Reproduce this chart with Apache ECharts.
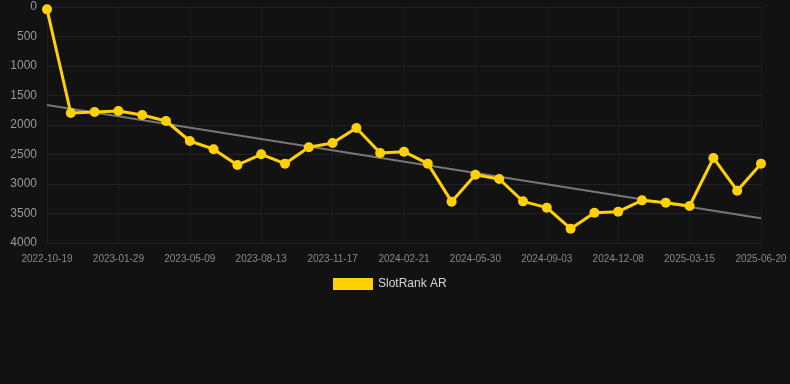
<!DOCTYPE html>
<html><head><meta charset="utf-8">
<script src="https://cdn.jsdelivr.net/npm/echarts@6/dist/echarts.min.js"></script>
<style>html,body{margin:0;padding:0;background:#121212;}#c{width:790px;height:384px;}</style>
</head><body><div id="c"></div>
<script>
var categories = ['2022-10-19','2022-11-22','2022-12-26','2023-01-29','2023-03-03','2023-04-05','2023-05-09','2023-06-10','2023-07-12','2023-08-13','2023-09-14','2023-10-16','2023-11-17','2023-12-19','2024-01-20','2024-02-21','2024-03-25','2024-04-27','2024-05-30','2024-07-01','2024-08-02','2024-09-03','2024-10-05','2024-11-06','2024-12-08','2025-01-09','2025-02-11','2025-03-15','2025-04-17','2025-05-19','2025-06-20'];
var rankValues = [40,1797,1780,1763,1830,1932,2271,2410,2678,2497,2655,2378,2305,2051,2475,2452,2655,3299,2842,2915,3294,3401,3757,3486,3469,3277,3316,3373,2559,3113,2655];
var trendStart = 1661;
var trendEnd = 3582;
var yTicks = {min:0, max:4000, interval:500};

var trend = categories.map(function(c,i){ return i===0 ? trendStart : (i===categories.length-1 ? trendEnd : null); });

var chart = echarts.init(document.getElementById('c'));
chart.setOption({
  backgroundColor:'#121212',
  animation:false,
  grid:{left:47,right:29,top:7,bottom:141,containLabel:false},
  legend:{
    data:[{name:'SlotRank AR', icon:'rect', itemStyle:{color:'#FFD100'}}],
    top:273, left:328,
    itemWidth:40, itemHeight:12, itemGap:10,
    textStyle:{color:'#d6d6d6', fontSize:12}
  },
  xAxis:{
    type:'category', data:categories, boundaryGap:false,
    axisLine:{show:false}, axisTick:{show:false},
    axisLabel:{color:'#888', fontSize:10, interval:2, margin:11},
    splitLine:{show:true, interval:2, lineStyle:{color:'#1d1d1d'}}
  },
  yAxis:{
    type:'value', inverse:true, min:yTicks.min, max:yTicks.max, interval:yTicks.interval,
    axisLine:{show:false}, axisTick:{show:false},
    axisLabel:{color:'#999', fontSize:12, margin:10, formatter:function(v){return String(v);}},
    splitLine:{lineStyle:{color:'#222'}}
  },
  series:[
    {name:'SlotRank AR', type:'line', data:rankValues,
     symbol:'circle', symbolSize:10,
     itemStyle:{color:'#FFD100'}, lineStyle:{color:'#FFD100', width:3}, z:3},
    {name:'trend', type:'line', data:trend, connectNulls:true,
     symbol:'none', lineStyle:{color:'#777', width:2}, itemStyle:{color:'#777'}, z:2, silent:true}
  ]
});
</script></body></html>
